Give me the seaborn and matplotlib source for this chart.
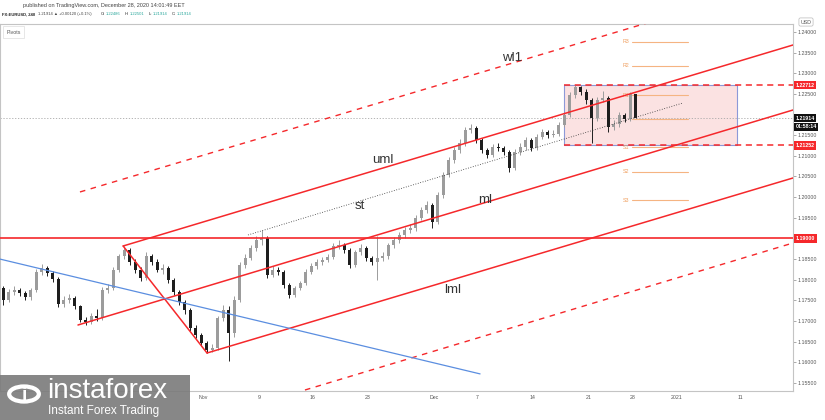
import numpy as np
import pandas as pd
import seaborn as sns
import matplotlib.pyplot as plt
import matplotlib.transforms as mtransforms
from matplotlib.patches import Rectangle, Circle

# EURUSD, bars (one bar ~ half a trading day)
first_open = 1.1780
closes = [1.1751, 1.1770, 1.1775, 1.1768, 1.1758, 1.1775, 1.1819, 1.1828, 1.1816, 1.1802,
          1.1741, 1.1751, 1.1756, 1.1736, 1.1703, 1.1698, 1.1712, 1.1707, 1.1775, 1.1780,
          1.1824, 1.1857, 1.1872, 1.1843, 1.1824, 1.1804, 1.1857, 1.1843, 1.1824, 1.1828,
          1.1799, 1.1770, 1.1746, 1.1727, 1.1683, 1.1666, 1.1647, 1.1630, 1.1635, 1.1707,
          1.1727, 1.1671, 1.1751, 1.1836, 1.1853, 1.1877, 1.1896, 1.1901, 1.1812, 1.1824,
          1.1819, 1.1787, 1.1763, 1.1780, 1.1792, 1.1819, 1.1833, 1.1843, 1.1848, 1.1855,
          1.1882, 1.1884, 1.1872, 1.1836, 1.1867, 1.1877, 1.1853, 1.1843, 1.1853, 1.1857,
          1.1884, 1.1896, 1.1908, 1.1920, 1.1925, 1.1950, 1.1969, 1.1981, 1.1940, 1.2005,
          1.2054, 1.2090, 1.2114, 1.2131, 1.2163, 1.2167, 1.2138, 1.2114, 1.2102, 1.2121,
          1.2119, 1.2109, 1.2071, 1.2109, 1.2121, 1.2138, 1.2119, 1.2146, 1.2158, 1.2150,
          1.2153, 1.2175, 1.2199, 1.2247, 1.2266, 1.2255, 1.2235, 1.2191, 1.2235, 1.2240,
          1.2169, 1.2177, 1.2199, 1.2189, 1.2249, 1.2191]
highs = [1.1786, 1.1778, 1.1784, 1.1781, 1.1773, 1.1780, 1.1826, 1.1838, 1.1833, 1.1822,
         1.1806, 1.1760, 1.1766, 1.1760, 1.1740, 1.1710, 1.1720, 1.1730, 1.1782, 1.1790,
         1.1830, 1.1863, 1.1881, 1.1877, 1.1849, 1.1830, 1.1866, 1.1862, 1.1849, 1.1838,
         1.1834, 1.1803, 1.1776, 1.1752, 1.1731, 1.1690, 1.1672, 1.1652, 1.1645, 1.1713,
         1.1740, 1.1736, 1.1760, 1.1843, 1.1862, 1.1885, 1.1905, 1.1921, 1.1906, 1.1833,
         1.1830, 1.1823, 1.1792, 1.1786, 1.1798, 1.1825, 1.1840, 1.1850, 1.1856, 1.1862,
         1.1890, 1.1895, 1.1890, 1.1876, 1.1873, 1.1886, 1.1882, 1.1858, 1.1905, 1.1866,
         1.1890, 1.1904, 1.1916, 1.1928, 1.1934, 1.1957, 1.1976, 1.1990, 1.1986, 1.2012,
         1.2060, 1.2097, 1.2122, 1.2140, 1.2170, 1.2177, 1.2172, 1.2143, 1.2120, 1.2128,
         1.2130, 1.2125, 1.2113, 1.2116, 1.2130, 1.2145, 1.2143, 1.2153, 1.2166, 1.2163,
         1.2162, 1.2183, 1.2206, 1.2255, 1.2272, 1.2270, 1.2262, 1.2240, 1.2243, 1.2258,
         1.2245, 1.2186, 1.2206, 1.2204, 1.2254, 1.2250]
lows = [1.1740, 1.1745, 1.1764, 1.1761, 1.1750, 1.1752, 1.1770, 1.1812, 1.1808, 1.1795,
        1.1735, 1.1733, 1.1744, 1.1728, 1.1697, 1.1690, 1.1693, 1.1700, 1.1703, 1.1768,
        1.1775, 1.1818, 1.1850, 1.1836, 1.1817, 1.1797, 1.1800, 1.1836, 1.1818, 1.1815,
        1.1792, 1.1763, 1.1738, 1.1718, 1.1676, 1.1659, 1.1640, 1.1622, 1.1625, 1.1630,
        1.1700, 1.1603, 1.1662, 1.1745, 1.1828, 1.1847, 1.1870, 1.1885, 1.1805, 1.1806,
        1.1811, 1.1780, 1.1755, 1.1758, 1.1774, 1.1787, 1.1813, 1.1827, 1.1836, 1.1842,
        1.1850, 1.1875, 1.1865, 1.1829, 1.1831, 1.1860, 1.1846, 1.1836, 1.1800, 1.1846,
        1.1851, 1.1878, 1.1890, 1.1902, 1.1913, 1.1919, 1.1944, 1.1962, 1.1925, 1.1935,
        1.1998, 1.2048, 1.2083, 1.2106, 1.2125, 1.2156, 1.2130, 1.2106, 1.2094, 1.2096,
        1.2112, 1.2101, 1.2060, 1.2066, 1.2103, 1.2115, 1.2111, 1.2114, 1.2140, 1.2143,
        1.2145, 1.2147, 1.2170, 1.2193, 1.2240, 1.2247, 1.2226, 1.2130, 1.2185, 1.2230,
        1.2158, 1.2162, 1.2170, 1.2181, 1.2184, 1.2191]

tick_pos = [36.3, 46.5, 56.3, 66.3, 78.3, 86.1, 96.3, 106.5, 114.5, 122.5, 134.0]
tick_labels = ['Nov', '9', '16', '23', 'Dec', '7', '14', '21', '28', '2021', '11']

# drawings (bar index, price)
blue_x, blue_y = [-0.59, 86.7], [1.1850, 1.1572]
uml_x, uml_y = [21.8, 143.6], [1.18817, 1.23684]
ml_x, ml_y = [13.59, 143.6], [1.16904, 1.2211]
lml_x, lml_y = [37.05, 143.6], [1.16226, 1.20464]
handle_x, handle_y = [21.8, 37.05], [1.18817, 1.16226]
wl1_x, wl1_y = [13.95, 143.6], [1.20125, 1.2527]
wl2_x, wl2_y = [54.86, 143.6], [1.15330, 1.18890]
st_x, st_y = [44.5, 123.6], [1.19084, 1.2228]
box_x, box_y = [101.95, 133.4], [1.21252, 1.22712]
support_level = 1.19000
last_price = 1.21914

pivot_names = ['R3', 'R2', 'R1', 'P', 'S1', 'S2', 'S3']
pivot_levels = [1.2376, 1.2318, 1.2247, 1.2189, 1.2121, 1.2061, 1.1993]

line_names = ['wl1', 'uml', 'st', 'ml', 'lml']
line_lab_x = [92.5, 69.1, 64.9, 87.6, 81.8]
line_lab_y = [1.2337, 1.2090, 1.1979, 1.1993, 1.1775]

df = pd.DataFrame({'c': closes, 'h': highs, 'l': lows})
df['o'] = [first_open] + closes[:-1]
df['i'] = np.arange(len(df))

sns.set_theme(style='white')
plt.rcParams['font.family'] = ['Liberation Sans', 'DejaVu Sans']

RED = '#f5282b'
fig = plt.figure(figsize=(8.25, 4.2), dpi=100)
ax = fig.add_axes([0, 29 / 420, 793 / 825, 367 / 420])

# candles
up = df['c'] >= df['o']
cols = np.where(up, '#9c9c9c', '#1e1e1e')
ax.vlines(df['i'], df['l'], df['h'], colors=cols, lw=0.7, zorder=3)
body_low = np.minimum(df['o'], df['c'])
body_h = np.maximum(np.abs(df['c'] - df['o']), 0.00012)
ax.bar(df['i'], body_h, bottom=body_low, width=0.62, color=cols, lw=0, zorder=3)

# box and levels
ax.add_patch(Rectangle((box_x[0], box_y[0]), box_x[1] - box_x[0], box_y[1] - box_y[0],
                       fc='#fbe2e2', ec='#8c99d8', lw=0.8, zorder=1))
for lvl in box_y:
    ax.plot([box_x[0], 143.6], [lvl, lvl], color=RED, lw=1.1, ls=(0, (4, 3)), zorder=4)
ax.axhline(support_level, color=RED, lw=1.2, zorder=4)
ax.axhline(last_price, color='#a8a8a8', lw=0.6, ls=(0, (1.5, 2)), zorder=2)

# pitchfork
for xs, ys in [(uml_x, uml_y), (ml_x, ml_y), (lml_x, lml_y), (handle_x, handle_y)]:
    sns.lineplot(x=xs, y=ys, ax=ax, color=RED, lw=1.1, zorder=4)
for xs, ys in [(wl1_x, wl1_y), (wl2_x, wl2_y)]:
    ax.plot(xs, ys, color=RED, lw=1.0, ls=(0, (4, 4)), zorder=4)
sns.lineplot(x=blue_x, y=blue_y, ax=ax, color='#5b8ee0', lw=0.9, zorder=4)
ax.plot(st_x, st_y, color='#333333', lw=0.6, ls=(0, (1, 2)), zorder=4)

for n, x, y in zip(line_names, line_lab_x, line_lab_y):
    ax.text(x, y, n, fontsize=9.5, color='#333333', ha='center', va='center', zorder=5)

# pivots
for n, lvl in zip(pivot_names, pivot_levels):
    ax.plot([114.3, 124.5], [lvl, lvl], color='#f5b482', lw=0.8, zorder=2)
    if n != 'P':
        ax.text(113.9, lvl, n, fontsize=3.8, color='#f0a060', ha='right', va='center')

ax.set_xlim(-0.59, 143.6)
ax.set_ylim(1.15306, 1.24192)
ax.yaxis.tick_right()
ax.set_yticks(np.arange(1.155, 1.2401, 0.005))


def price_fmt(v, pos):
    # labels hidden behind the coloured price boxes
    if abs(v - 1.19) < 1e-6 or abs(v - 1.22) < 1e-6:
        return ''
    return f'{v:.5f}'


ax.yaxis.set_major_formatter(plt.FuncFormatter(price_fmt))
ax.tick_params(axis='y', length=2, width=0.5, pad=1.5, labelsize=3.8,
               labelcolor='#555555', color='#888888')
ax.set_xticks(tick_pos, tick_labels)
ax.tick_params(axis='x', length=0, pad=3, labelsize=3.8, colors='#555555')
for s in ax.spines.values():
    s.set_color('#c4c4c4')
    s.set_linewidth(0.8)
ax.set_xlabel('')
ax.set_ylabel('')

# right axis price labels
tr = mtransforms.blended_transform_factory(ax.transAxes, ax.transData)
for val, txt, fc in [(box_y[1], '1.22712', RED), (last_price, '1.21914', '#111111'),
                     (last_price - 0.00215, '01:58:14', '#111111'),
                     (box_y[0], '1.21252', RED), (support_level, '1.19000', RED)]:
    ax.text(1.003, val, txt, transform=tr, fontsize=3.8, color='white', va='center',
            ha='left', fontweight='bold',
            bbox=dict(boxstyle='square,pad=0.35', fc=fc, ec='none'), clip_on=False)

# header
HF = 3.0
fig.text(23 / 825, 1 - 5 / 420, 'published on TradingView.com, December 28, 2020 14:01:49 EET',
         fontsize=4, color='#444444', va='center')
fig.text(2 / 825, 1 - 14 / 420, 'FX:EURUSD, 240', fontsize=HF, color='#222222',
         fontweight='bold', va='center')
fig.text(38 / 825, 1 - 14 / 420, '1.21914 \u25b2 +0.00120 (+0.1%)', fontsize=HF,
         color='#444444', va='center')
for x, t, c in [(101, 'O:', '#222222'), (106, '1.22486', '#26a69a'), (125, 'H:', '#222222'),
                (130, '1.22501', '#26a69a'), (149, 'L:', '#222222'), (153, '1.21914', '#26a69a'),
                (172, 'C:', '#222222'), (177, '1.21914', '#26a69a')]:
    fig.text(x / 825, 1 - 14 / 420, t, fontsize=HF, color=c, va='center')
ax.text(0.008, 0.985, 'Pivots', transform=ax.transAxes, fontsize=3.8, color='#555555',
        va='top', bbox=dict(boxstyle='square,pad=0.6', fc='white', ec='#dddddd', lw=0.5))
fig.text(806 / 825, 1 - 22 / 420, 'USD', fontsize=3.8, color='#555555', ha='center',
         va='center', bbox=dict(boxstyle='round,pad=0.3', fc='white', ec='#bbbbbb', lw=0.5))

# watermark logo
fig.add_artist(Rectangle((0, 0), 190 / 825, 45 / 420, transform=fig.transFigure,
                         fc='#7a7a7a', ec='none', alpha=0.9, zorder=10))
fig.add_artist(Circle((24 / 825, 1 - 394 / 420), 0.018, transform=fig.transFigure,
                      fc='none', ec='white', lw=3, zorder=11))
fig.text(24 / 825, 1 - 396 / 420, 'i', fontsize=14, color='white', fontweight='bold',
         ha='center', va='center', zorder=12)
fig.text(47 / 825, 1 - 391 / 420, 'instaforex', fontsize=20, color='white',
         va='center', zorder=12)
fig.text(48 / 825, 1 - 411 / 420, 'Instant Forex Trading', fontsize=8.5, color='white',
         va='center', zorder=12)

fig.savefig('out.png', dpi=100)
